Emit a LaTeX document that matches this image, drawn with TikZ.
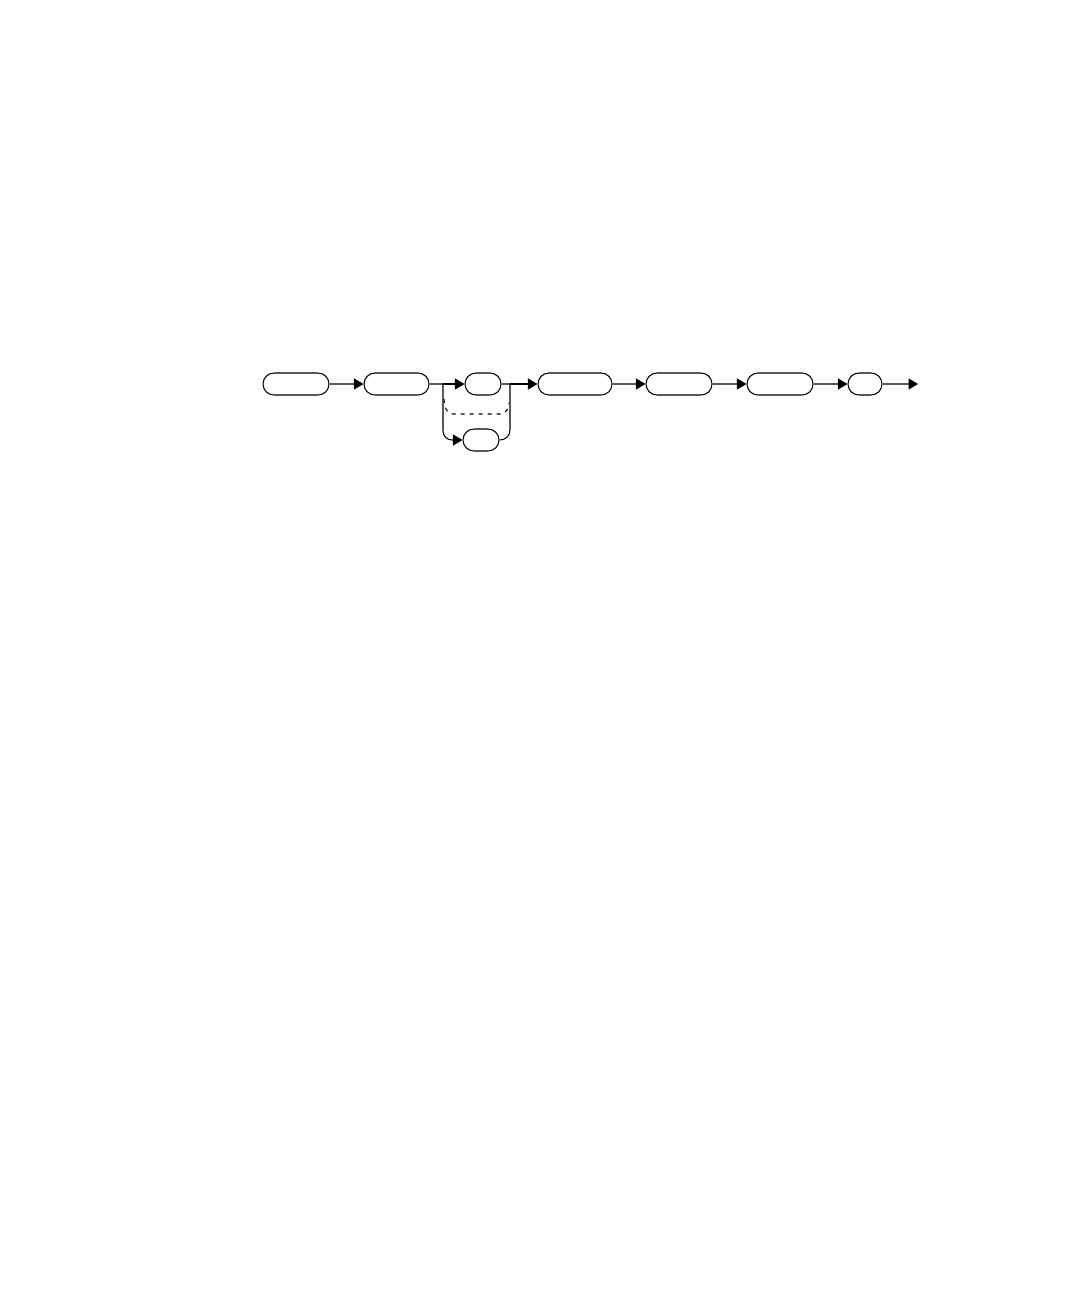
\documentclass[tikz,border=0pt]{standalone}
\usepackage{tikz}
\usetikzlibrary{arrows.meta, shapes.misc}

\begin{document}
\begin{tikzpicture}[x=0.02cm, y=-0.02cm]
            \useasboundingbox (0,0) rectangle (1080,1296);
            \begin{scope}[every node/.style={rounded rectangle,draw,line width=0.6pt,
                          minimum height=0.44cm,inner sep=0pt}]
                \node[minimum width=1.32cm] (S1) at (296,384) {};
                \node[minimum width=1.30cm] (S2) at (396.5,384) {};
                \node[minimum width=0.72cm] (S3) at (483,384) {};
                \node[minimum width=0.72cm] (S3b) at (481,440) {};
                \node[minimum width=1.48cm] (S4) at (575,384) {};
                \node[minimum width=1.32cm] (S5) at (679,384) {};
                \node[minimum width=1.32cm] (S6) at (780,384) {};
                \node[minimum width=0.68cm] (S7) at (865,384) {};
            \end{scope}

            \coordinate (fork) at (443,384);
            \coordinate (join) at (510,384);
            \coordinate (end) at (918,384);
            \coordinate (dashL) at (444,399);
            \coordinate (dashA) at (453,414);
            \coordinate (dashB) at (500,414);
            \coordinate (dashR) at (509,403);

            \begin{scope}[>={Triangle[length=0.19cm,width=0.22cm]},
                          every edge/.style={draw=black, line width=0.6pt}]
                \path [->] (S1) edge (S2);
                \path (S2) edge (fork);
                \path [->] (fork) edge (S3);
                \path (S3) edge (join);
                \path [->] (join) edge (S4);
                \path [->] (S4) edge (S5);
                \path [->] (S5) edge (S6);
                \path [->] (S6) edge (S7);
                \path [->] (S7) edge (end);
                \draw [->, line width=0.6pt, rounded corners=0.18cm] (fork) |- (S3b);
                \draw [line width=0.6pt, rounded corners=0.2cm] (S3b) -| (join);
            \end{scope}
            \draw [line width=0.6pt, dash pattern=on 0.08cm off 0.1cm]
                (dashL) to[out=-90,in=180] (dashA) -- (dashB) to[out=0,in=-90] (dashR);

            \end{tikzpicture}
\end{document}
